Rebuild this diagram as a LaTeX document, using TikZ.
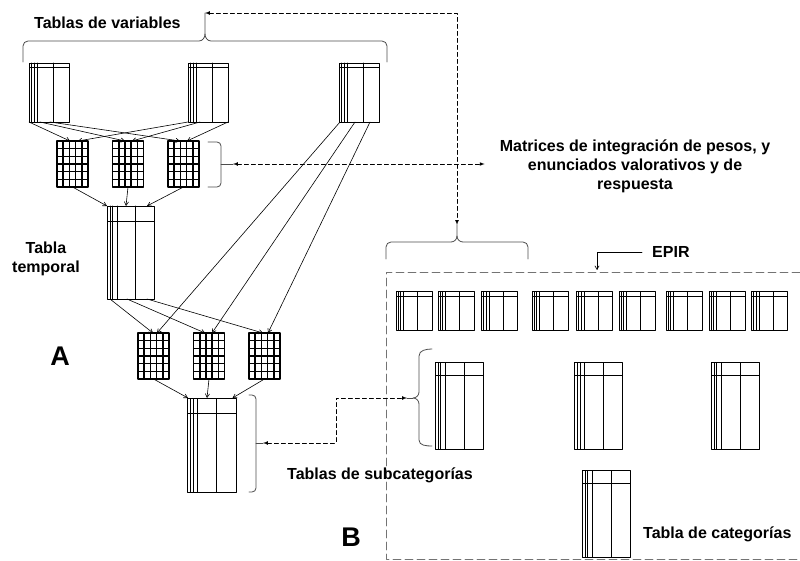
\documentclass[tikz,border=0pt]{standalone}
\usepackage{fontspec}
\setmainfont{Liberation Sans}
\usetikzlibrary{arrows,calc}
\definecolor{sqsqsq}{rgb}{0.3,0.3,0.3}
\definecolor{wvvxds}{rgb}{0.45,0.45,0.45}
\tikzset{
  tabla/.style n args={3}{draw,inner sep=0pt,outer sep=0pt,line width=0.6pt,minimum width=#1,minimum height=#2,
    path picture={
      \foreach \f in {0.06,0.12,0.21,0.6}
        \draw [line width=0.6pt] ($(path picture bounding box.north west)!\f!(path picture bounding box.north east)$)-- ($(path picture bounding box.south west)!\f!(path picture bounding box.south east)$);
      \draw [line width=0.6pt] ($(path picture bounding box.north west)!#3!(path picture bounding box.south west)$)-- ($(path picture bounding box.north east)!#3!(path picture bounding box.south east)$);
    }},
  rejilla/.style={draw,inner sep=0pt,outer sep=0pt,line width=1.6pt,minimum width=31pt,minimum height=46pt,
    path picture={
      \foreach \f in {0.2,0.4,0.6,0.8}
        \draw [line width=1.6pt] ($(path picture bounding box.north west)!\f!(path picture bounding box.north east)$)-- ($(path picture bounding box.south west)!\f!(path picture bounding box.south east)$);
      \foreach \f in {0.1667,0.3333,0.5,0.6667,0.8333}
        \draw [line width=1.6pt] ($(path picture bounding box.north west)!\f!(path picture bounding box.south west)$)-- ($(path picture bounding box.north east)!\f!(path picture bounding box.south east)$);
    }},
  flecha/.style={line width=0.6pt,->,>=angle 60},
  llave/.style={line width=0.8pt,color=sqsqsq},
  enlace/.style={line width=0.7pt,latex-latex,dash pattern=on 4pt off 3pt},
  marco/.style={line width=0.8pt,color=wvvxds,dash pattern=on 8pt off 4pt},
  rotulo/.style={font=\fontsize{16}{19}\selectfont\bfseries,inner sep=0pt}
}
\begin{document}
\begin{tikzpicture}[line cap=round,line join=round,x=1pt,y=-1pt]
        \useasboundingbox (0,0) rectangle (800,561);
        % A: tablas de variables, matrices y tabla temporal
        \node [tabla={40pt}{59pt}{0.07}] (t1) at (49,92.5) {};
        \node [tabla={40pt}{59pt}{0.07}] (t2) at (208,92.5) {};
        \node [tabla={40pt}{59pt}{0.07}] (t3) at (359,92.5) {};
        \node [rejilla] (m1) at (72.5,164) {};
        \node [rejilla] (m2) at (128,164) {};
        \node [rejilla] (m3) at (183.5,164) {};
        \node [tabla={47pt}{93pt}{0.16}] (temp) at (130.5,252.5) {};
        \node [rejilla] (m4) at (153.5,356) {};
        \node [rejilla] (m5) at (209,356) {};
        \node [rejilla] (m6) at (264.5,356) {};
        \node [tabla={49pt}{94pt}{0.16}] (subA) at (211.5,445) {};
        \draw [flecha] (t1.south west)-- ([xshift=-2.5pt]m1.north);
        \draw [flecha] ([xshift=11pt]t1.south west)-- ([xshift=-3pt]m2.north);
        \draw [flecha] ([xshift=21pt]t1.south west)-- ([xshift=-3.5pt]m3.north);
        \draw [flecha] (t2.south west)-- ([xshift=5.5pt]m1.north);
        \draw [flecha] ([xshift=12pt]t2.south west)-- ([xshift=4pt]m2.north);
        \draw [flecha] (t2.south east)-- ([xshift=3.5pt]m3.north);
        \draw [flecha] (m1.south)-- (temp.north west);
        \draw [flecha] (m2.south)-- ([xshift=-4.5pt]temp.north);
        \draw [flecha] (m3.south)-- ([xshift=16.5pt]temp.north);
        \draw [flecha] ([xshift=3pt]temp.south west)-- ([xshift=-0.5pt]m4.north);
        \draw [flecha] ([xshift=20pt]temp.south west)-- ([xshift=-4pt]m5.north);
        \draw [flecha] ([xshift=40pt]temp.south west)-- ([xshift=-1.5pt]m6.north);
        \draw [flecha] ([xshift=1pt]t3.south west)-- ([xshift=3.5pt]m4.north);
        \draw [flecha] ([xshift=16pt]t3.south west)-- ([xshift=3pt]m5.north);
        \draw [flecha] ([xshift=31pt]t3.south west)-- ([xshift=3.5pt]m6.north);
        \draw [flecha] (m4.south)-- ([xshift=1pt]subA.north west);
        \draw [flecha] (m5.south)-- ([xshift=-4.5pt]subA.north);
        \draw [flecha] (m6.south)-- ([xshift=21pt]subA.north);
        % B: EPIR
        \foreach \xx [count=\i] in {414,456,499.5,550,594.5,637,684,727,769.5}
          \node [tabla={36pt}{39pt}{0.13}] (e\i) at (\xx,310.5) {};
        \node [tabla={48pt}{87pt}{0.15}] (sb1) at (459,405.5) {};
        \node [tabla={48pt}{87pt}{0.15}] (sb2) at (598.5,405.5) {};
        \node [tabla={48pt}{87pt}{0.15}] (sb3) at (735,405.5) {};
        \node [tabla={48pt}{87pt}{0.15}] (cat) at (606,513.5) {};
        \draw [marco] (800,272)-- (386,272)-- (386,559)-- (800,559);
        % llaves
        \coordinate (varTip) at (205,13);
        \coordinate (matTip) at (233,164);
        \coordinate (epirTip) at (457,225);
        \coordinate (subATip) at (263,443);
        \coordinate (subBTip) at (407,398);
        \coordinate (epirMark) at (597,270);
        \draw [llave] (23,62)-- (23,46) to[out=90,in=180] (28,41)-- (199,41) to[out=0,in=-90] (205,34)-- (varTip);
        \draw [llave] (205,34) to[out=-90,in=180] (211,41)-- (382,41) to[out=0,in=90] (387,46)-- (387,62);
        \draw [llave,rounded corners=4pt] (208,142) -| (221,187)-- (208,187);
        \draw [llave] (221,164)-- (matTip);
        \draw [llave,rounded corners=4pt] (249,395) -| (256,492)-- (249,492);
        \draw [llave] (256,443)-- (subATip);
        \draw [llave] (432,349) to[out=180,in=90] (419,356)-- (419,392) to[out=-90,in=0] (413,398) to[out=0,in=90] (419,404)-- (419,440) to[out=-90,in=180] (432,446);
        \draw [llave] (413,398)-- (subBTip);
        \draw [llave] (386,259)-- (386,247) to[out=90,in=180] (391,242)-- (451,242) to[out=0,in=-90] (457,236)-- (epirTip);
        \draw [llave] (457,236) to[out=-90,in=180] (463,242)-- (523,242) to[out=0,in=90] (528,247)-- (528,259);
        % textos
        \draw (34,29) node[rotulo,anchor=base west] (tvar) {Tablas de variables};
        \draw (635,166) node[rotulo,align=center] (mat) {Matrices de integración de pesos, y\\enunciados valorativos y de\\respuesta};
        \draw (46,259) node[rotulo,align=center] (ttemp) {Tabla\\temporal};
        \draw (60,356) node[inner sep=0pt,font=\fontsize{27}{30}\selectfont\bfseries] (la) {A};
        \draw (351,537) node[inner sep=0pt,font=\fontsize{27}{30}\selectfont\bfseries] (lb) {B};
        \draw (287,479) node[rotulo,anchor=base west] (tsub) {Tablas de subcategorías};
        \draw (643,538) node[rotulo,anchor=base west] (tcat) {Tabla de categorías};
        \draw (652,258) node[rotulo,anchor=base west] (epir) {EPIR};
        % enlaces
        \draw [enlace] (varTip) -| (epirTip);
        \draw [enlace] (matTip)-- ([xshift=-15pt]mat.west |- matTip);
        \draw [enlace] (subATip)-- ++(73,0) |- (subBTip);
        \draw [flecha] ([xshift=-10pt]epir.west) -| (epirMark);
\end{tikzpicture}
\end{document}
